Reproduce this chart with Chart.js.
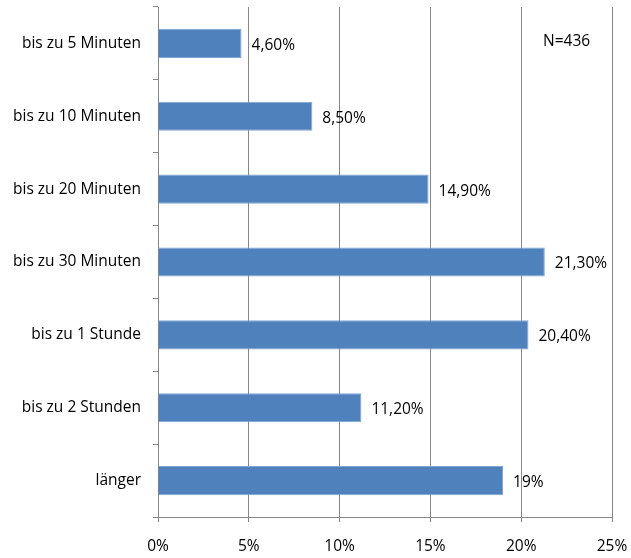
<!DOCTYPE html>
<html>
<head>
<meta charset="utf-8">
<script src="https://cdn.jsdelivr.net/npm/chart.js@4/dist/chart.umd.min.js"></script>
<style>
  html, body { margin: 0; padding: 0; background: #fff; }
  #wrap { width: 631px; height: 558px; }
</style>
</head>
<body>
<div id="wrap"><canvas id="chartCanvas"></canvas></div>
<script>
var categories = ['bis zu 5 Minuten', 'bis zu 10 Minuten', 'bis zu 20 Minuten', 'bis zu 30 Minuten',
                  'bis zu 1 Stunde', 'bis zu 2 Stunden', 'länger'];
var values = [4.6, 8.5, 14.9, 21.3, 20.4, 11.2, 19];
var valueLabels = ['4,60%', '8,50%', '14,90%', '21,30%', '20,40%', '11,20%', '19%'];
var xTicks = [0, 5, 10, 15, 20, 25];
var noteText = 'N=436';

var fontFamily = "'Open Sans', 'Noto Sans', sans-serif";
var fontSize = 15.5;
var axisGrey = '#868686';

// text next to each bar + the N note
var labelPlugin = {
    id: 'barLabels',
    afterDatasetsDraw: function (chart) {
        var c = chart.ctx;
        var meta = chart.getDatasetMeta(0);
        c.save();
        c.fillStyle = '#000';
        c.font = fontSize + 'px ' + fontFamily;
        c.textBaseline = 'middle';
        c.textAlign = 'left';
        meta.data.forEach(function (bar, i) {
            c.fillText(valueLabels[i], bar.x + 10, bar.y + 2);
        });
        var xs = chart.scales.x;
        c.fillText(noteText, xs.getPixelForValue(21.2), chart.chartArea.top + 35);
        c.restore();
    }
};

var ctx = document.getElementById('chartCanvas').getContext('2d');
var myChart = new Chart(ctx, {
    type: 'bar',
    data: {
        labels: categories,
        datasets: [{
            data: values,
            backgroundColor: '#4F81BD',
            borderColor: '#7FA5D6',
            borderWidth: 1,
            categoryPercentage: 1,
            barPercentage: 0.4
        }]
    },
    plugins: [labelPlugin],
    options: {
        indexAxis: 'y',
        responsive: true,
        maintainAspectRatio: false,
        animation: false,
        layout: { padding: { left: 0, right: 19, top: 7, bottom: 0 } },
        plugins: {
            legend: { display: false },
            tooltip: { enabled: false }
        },
        scales: {
            x: {
                min: 0,
                max: 25,
                afterBuildTicks: function (scale) {
                    scale.ticks = xTicks.map(function (v) { return { value: v }; });
                },
                afterFit: function (scale) {
                    scale.height = 41;
                    scale.paddingLeft = 0;
                    scale.paddingRight = 0;
                },
                grid: {
                    color: axisGrey,
                    lineWidth: 1,
                    tickLength: 5
                },
                border: { display: true, color: axisGrey },
                ticks: {
                    color: '#000',
                    padding: 15,
                    font: { size: fontSize, family: fontFamily },
                    callback: function (v) { return v + '%'; }
                }
            },
            y: {
                afterFit: function (scale) {
                    scale.width = 158;
                    scale.paddingTop = 0;
                    scale.paddingBottom = 0;
                },
                grid: {
                    offset: true,
                    drawOnChartArea: false,
                    color: axisGrey,
                    tickLength: 5
                },
                border: { display: true, color: axisGrey },
                ticks: {
                    color: '#000',
                    padding: 12,
                    font: { size: fontSize, family: fontFamily }
                }
            }
        }
    }
});
</script>
</body>
</html>
